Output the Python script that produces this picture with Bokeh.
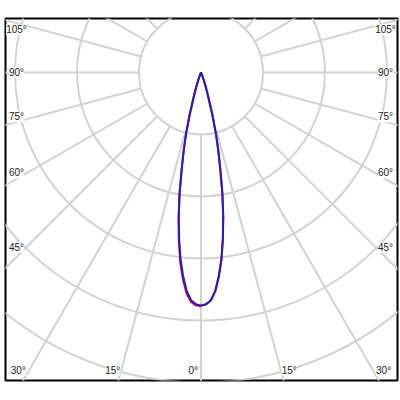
import numpy as np
from bokeh.plotting import figure
from bokeh.models import Range1d, ColumnDataSource, LabelSet
from bokeh.core.properties import value
from bokeh.embed import file_html
from bokeh.resources import INLINE

# ---- data (luminous intensity, cd) ----
angles_deg = [0, 1.25, 2.5, 3.75, 5, 6.25, 7.5, 8.75, 10, 11.25, 12.5, 13.75, 15, 16.25,
              17.5, 18.75, 20, 21.25, 22.5, 23.75, 25, 30, 45, 60, 75, 90, 105, 120, 135, 150, 165, 180]
blue_cd = [1880, 1870, 1838, 1765, 1650, 1515, 1352, 1178, 995, 800, 645, 505, 355, 225,
           162, 104, 62, 35, 18, 8, 0, 0, 0, 0, 0, 0, 0, 0, 0, 0, 0, 0]
red_left_cd = [1885, 1878, 1852, 1785, 1675, 1538, 1370, 1190, 1000, 803, 647, 506, 355, 225,
               162, 104, 62, 35, 18, 8, 0, 0, 0, 0, 0, 0, 0, 0, 0, 0, 0, 0]
red_right_cd = [1880, 1870, 1838, 1765, 1650, 1515, 1352, 1178, 995, 800, 645, 505, 355, 225,
                162, 104, 62, 35, 18, 8, 0, 0, 0, 0, 0, 0, 0, 0, 0, 0, 0, 0]

ring_cd = [500, 1000, 1500, 2000, 2500, 3000, 3500]
spoke_deg = [0, 15, 30, 45, 60, 75, 90, 105, 120, 135, 150, 165, 180]
label_deg = [0, 15, 30, 45, 60, 75, 90, 105]

PX_PER_CD = 62 / 500.0

p = figure(width=400, height=384,
           x_range=Range1d(-195.5, 196.5), y_range=Range1d(-308, 54),
           x_axis_type=None, y_axis_type=None,
           output_backend="svg", toolbar_location=None,
           min_border_left=5, min_border_right=3, min_border_top=18, min_border_bottom=4)
p.outline_line_color = "black"
p.outline_line_width = 2
p.background_fill_color = "white"
p.border_fill_color = "white"

GRID = "#d2d2d2"

# rings
radii = [r * PX_PER_CD for r in ring_cd]
p.circle(x=[0] * len(radii), y=[0] * len(radii), radius=radii,
         fill_color=None, line_color=GRID, line_width=2)

# spokes (both sides), from inner ring outward
r0 = ring_cd[0] * PX_PER_CD
r1 = 800
x0s, y0s, x1s, y1s = [], [], [], []
for side in (-1, 1):
    for a in spoke_deg:
        t = np.radians(a)
        x0s.append(side * r0 * np.sin(t)); y0s.append(-r0 * np.cos(t))
        x1s.append(side * r1 * np.sin(t)); y1s.append(-r1 * np.cos(t))
p.segment(x0=x0s, y0=y0s, x1=x1s, y1=y1s, line_color=GRID, line_width=2)

# angle labels along the frame
lx, ly, lt = [], [], []
XL, YB = 184.5, 298.0
for side in (-1, 1):
    for a in label_deg:
        if a == 0 and side == 1:
            continue
        ap = a + 1.5 if a < 90 else (a - 2 if a > 90 else a)
        t = np.radians(ap)
        s, c = np.sin(t), np.cos(t)
        cands = []
        if s > 1e-9:
            cands.append(XL / s)
        if c > 1e-9:
            cands.append(YB / c)
        d = min(cands)
        lx.append(side * d * s)
        ly.append(-d * c)
        lt.append(f"{a}°")
lsrc = ColumnDataSource(dict(x=lx, y=ly, text=lt))
p.add_layout(LabelSet(x="x", y="y", text="text", source=lsrc,
                      text_align="center", text_baseline="middle",
                      text_font=value("Liberation Sans"), text_font_size="10px",
                      text_color="#222222",
                      background_fill_color="white", background_fill_alpha=1.0))


def curve(left_cd, right_cd):
    xs, ys = [], []
    for a, v in zip(reversed(angles_deg), reversed(left_cd)):
        t = np.radians(a)
        r = v * PX_PER_CD
        xs.append(-r * np.sin(t)); ys.append(-r * np.cos(t))
    for a, v in zip(angles_deg, right_cd):
        t = np.radians(a)
        r = v * PX_PER_CD
        xs.append(r * np.sin(t)); ys.append(-r * np.cos(t))
    return xs, ys


rx, ry = curve(red_left_cd, red_right_cd)
p.line(rx, ry, line_color="#ff0000", line_width=2)
bx, by = curve(blue_cd, blue_cd)
p.line(bx, by, line_color="#1c1cdc", line_width=2)

open("out.html", "w").write(file_html(p, INLINE))
